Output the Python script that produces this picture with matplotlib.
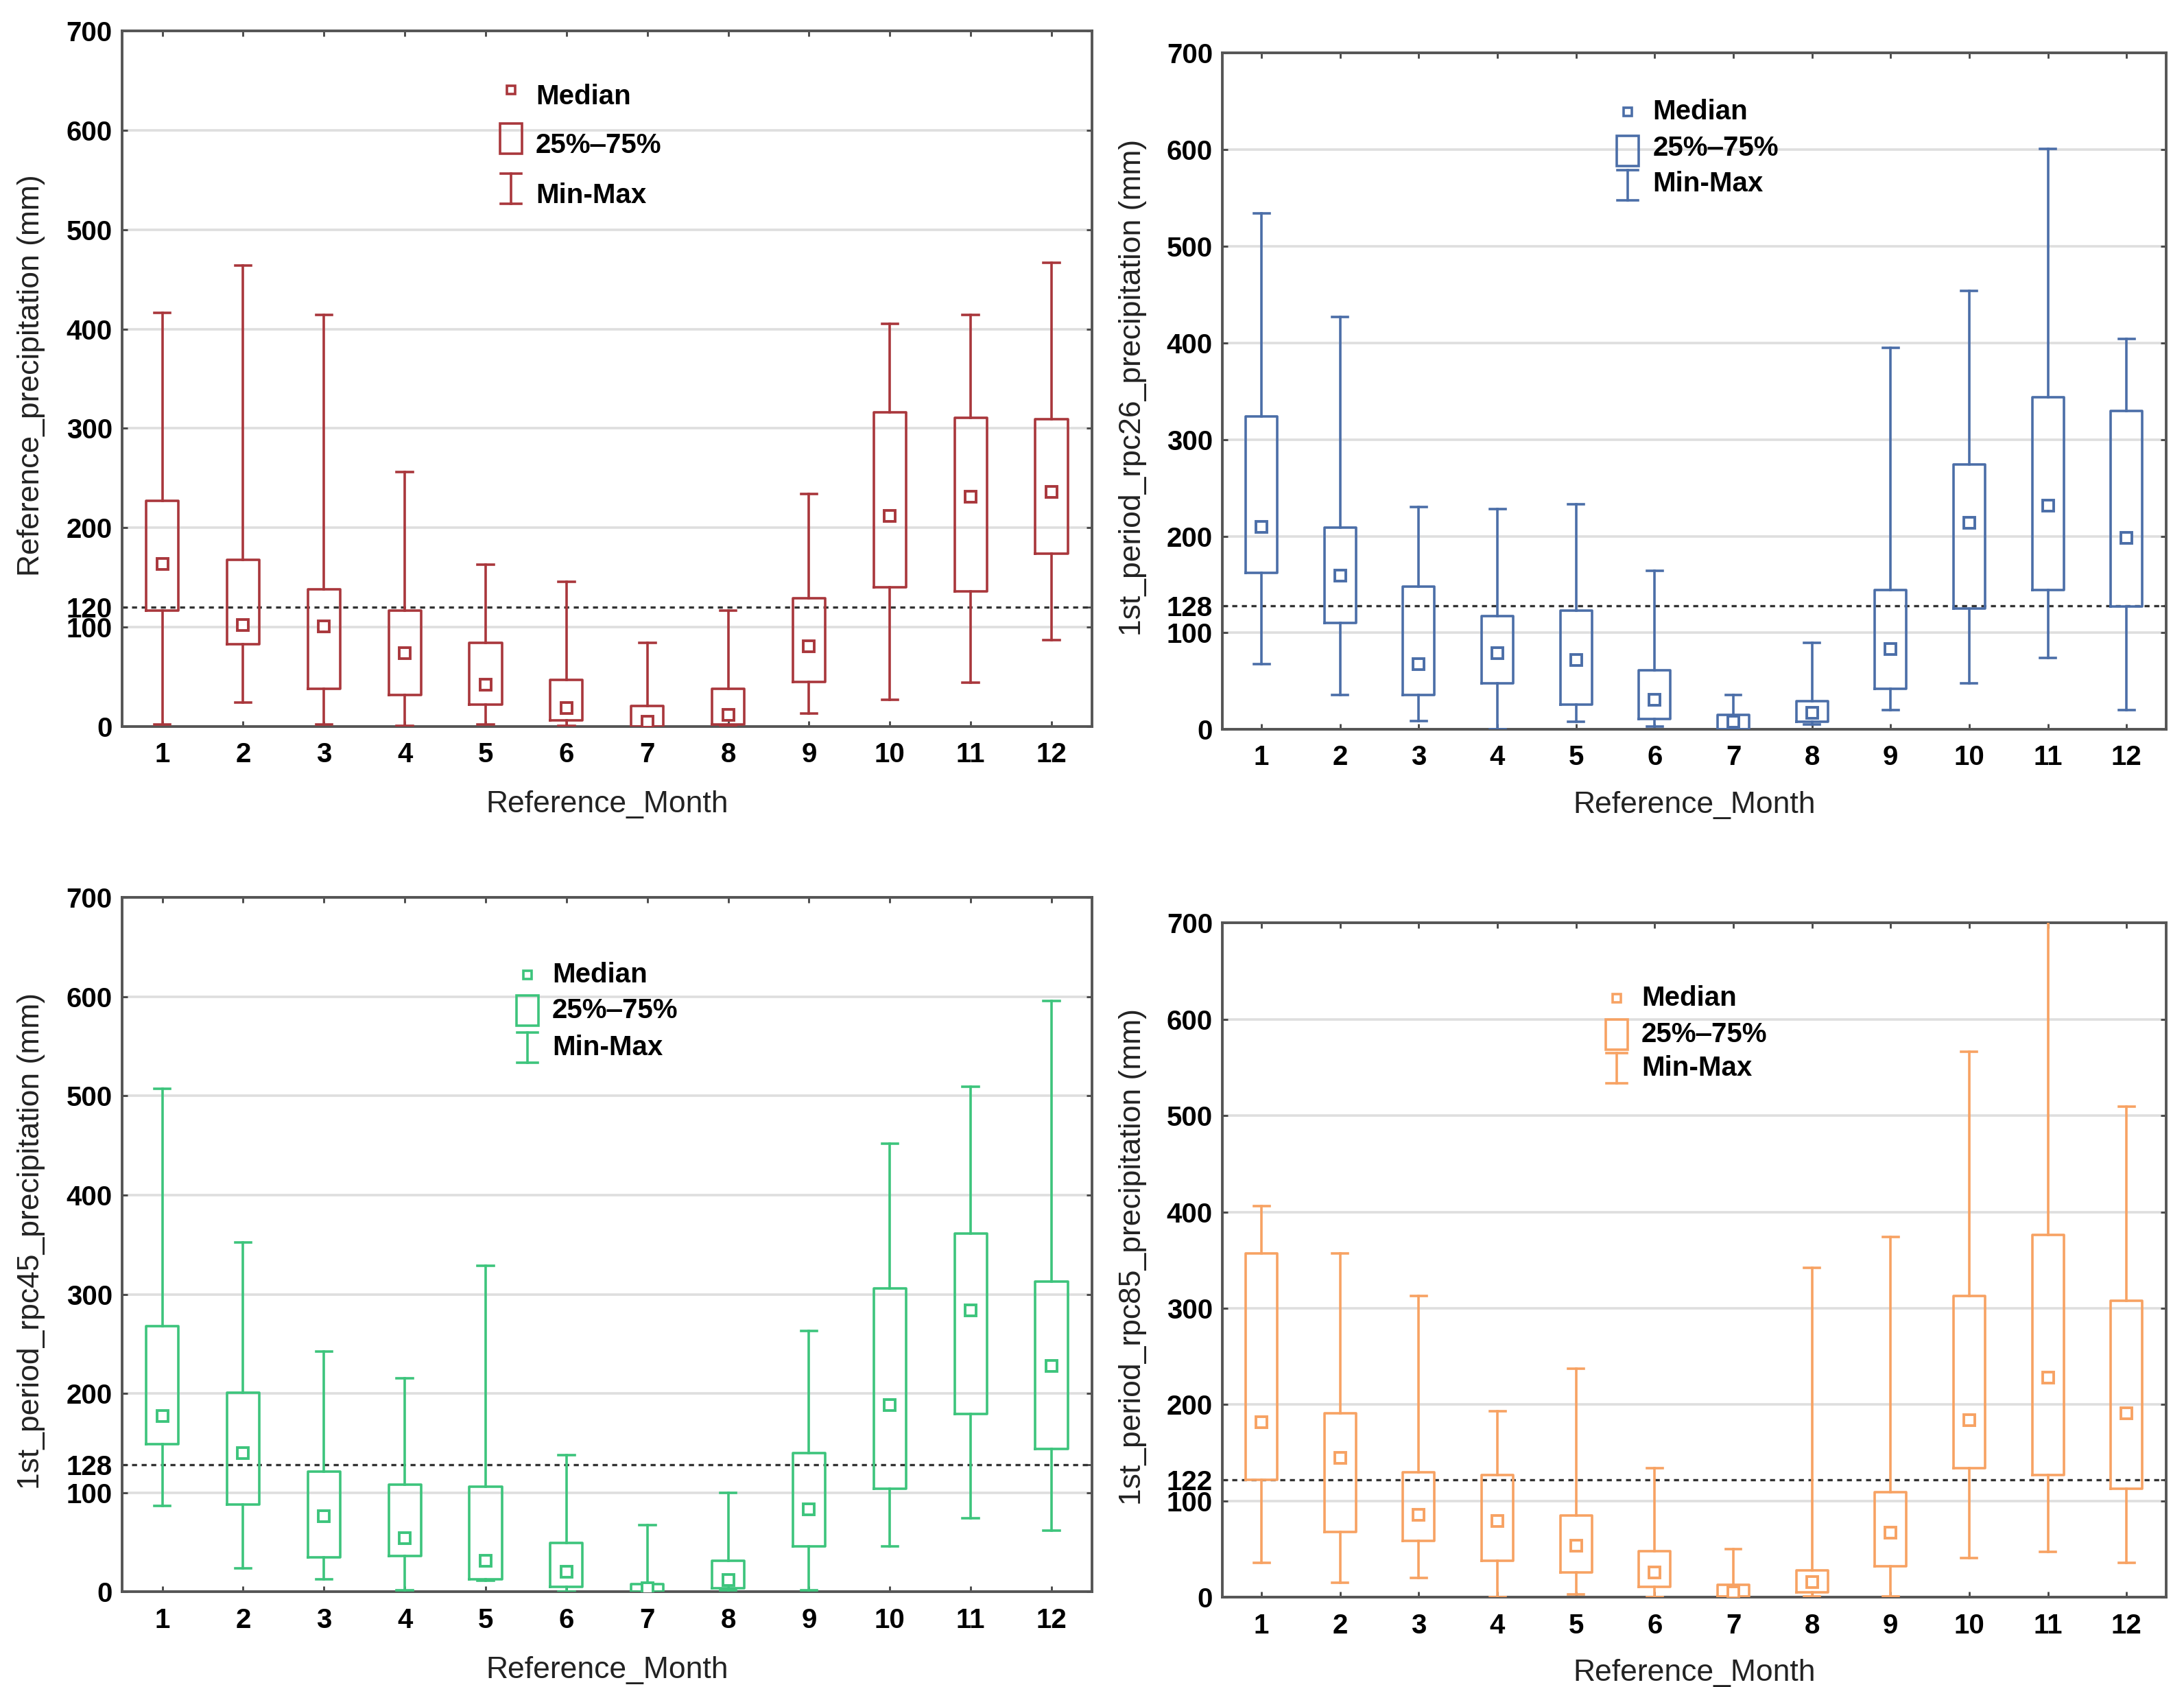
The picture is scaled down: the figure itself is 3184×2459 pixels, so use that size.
import matplotlib
matplotlib.use("Agg")
import matplotlib.pyplot as plt
from matplotlib.patches import Rectangle

plt.rcParams['font.family'] = ['Liberation Sans', 'DejaVu Sans']

months = list(range(1, 13))
month_labels = [str(m) for m in months]
y_ticks = [0, 100, 200, 300, 400, 500, 600, 700]

# Panel 1: Reference
ref_min = [2, 24, 2, 0.5, 2, 0.5, 0, 0.5, 13, 27, 44, 87]
ref_q1 = [117, 83, 38, 32, 22, 6, 0, 2, 45, 140, 136, 174]
ref_med = [164, 102, 101, 74, 42, 19, 5, 12, 81, 212, 231, 236]
ref_q3 = [227, 168, 138, 117, 84, 47, 21, 38, 129, 316, 311, 309]
ref_max = [416, 464, 414, 256, 163, 146, 84, 117, 234, 405, 414, 467]
ref_line = 120

# Panel 2: rpc26
r26_min = [68, 36, 9, 0, 8, 3, 0, 5, 20, 48, 74, 20]
r26_q1 = [162, 110, 36, 48, 26, 11, 0.5, 8, 42, 125, 144, 127]
r26_med = [210, 159, 68, 79, 72, 31, 8, 17, 83, 214, 232, 198]
r26_q3 = [324, 209, 148, 117, 123, 61, 15, 29, 144, 274, 344, 330]
r26_max = [534, 427, 230, 228, 233, 164, 36, 90, 395, 454, 601, 404]
r26_line = 128

# Panel 3: rpc45
r45_min = [87, 24, 13, 1.5, 11, 0.5, 0, 1.5, 1.5, 46, 74, 62]
r45_q1 = [149, 88, 35, 36, 13, 5, 0.5, 4, 46, 104, 179, 144]
r45_med = [177, 140, 76, 54, 31, 20, 4, 12, 83, 188, 284, 228]
r45_q3 = [268, 201, 121, 108, 106, 49, 8, 31, 140, 306, 361, 313]
r45_max = [507, 352, 242, 215, 329, 138, 67, 100, 263, 452, 509, 596]
r45_line = 128

# Panel 4: rpc85
r85_min = [36, 15, 20, 0, 3, 0, 0, 1, 1, 41, 47, 36]
r85_q1 = [122, 68, 59, 38, 26, 11, 1, 5, 32, 134, 127, 113]
r85_med = [182, 145, 86, 79, 54, 26, 5, 16, 67, 184, 228, 191]
r85_q3 = [357, 191, 130, 127, 85, 48, 13, 28, 109, 313, 376, 308]
r85_max = [406, 357, 313, 193, 237, 134, 50, 342, 374, 566, 710, 509]
r85_line = 122

W_IN, H_IN, DPI = 15.92, 12.295, 200
fig = plt.figure(figsize=(W_IN, H_IN), dpi=DPI)

panels = [
    dict(pos=[0.0558, 0.5693, 0.4442, 0.4124], color='#A9373C',
         data=(ref_min, ref_q1, ref_med, ref_q3, ref_max), line=ref_line,
         ylabel='Reference_precipitation (mm)', xlabel='Reference_Month',
         leg_x=0.401, leg_h=[0.915, 0.845, 0.773], leg_t=[0.905, 0.835, 0.763],
         ylab_x=-0.079, xlab_y=-0.092),
    dict(pos=[0.5596, 0.5676, 0.4321, 0.4009], color='#4B6EA8',
         data=(r26_min, r26_q1, r26_med, r26_q3, r26_max), line=r26_line,
         ylabel='1st_period_rpc26_precipitation (mm)', xlabel='Reference_Month',
         leg_x=0.430, leg_h=[0.913, 0.855, 0.805], leg_t=[0.913, 0.859, 0.807],
         ylab_x=-0.080, xlab_y=-0.091),
    dict(pos=[0.0558, 0.0564, 0.4442, 0.4116], color='#3DC47C',
         data=(r45_min, r45_q1, r45_med, r45_q3, r45_max), line=r45_line,
         ylabel='1st_period_rpc45_precipitation (mm)', xlabel='Reference_Month',
         leg_x=0.418, leg_h=[0.889, 0.837, 0.784], leg_t=[0.889, 0.837, 0.784],
         ylab_x=-0.079, xlab_y=-0.093),
    dict(pos=[0.5596, 0.0531, 0.4321, 0.3999], color='#F7A263',
         data=(r85_min, r85_q1, r85_med, r85_q3, r85_max), line=r85_line,
         ylabel='1st_period_rpc85_precipitation (mm)', xlabel='Reference_Month',
         leg_x=0.418, leg_h=[0.888, 0.834, 0.784], leg_t=[0.888, 0.834, 0.784],
         ylab_x=-0.080, xlab_y=-0.091),
]

LW = 1.3
TICK_FS = 14.5
LAB_FS = 16

for p in panels:
    ax = fig.add_axes(p['pos'])
    c = p['color']
    mn, q1, md, q3, mx = p['data']
    stats = []
    for i in range(len(months)):
        stats.append(dict(med=md[i], q1=q1[i], q3=q3[i], whislo=mn[i], whishi=mx[i], label=month_labels[i]))
    ax.bxp(stats, positions=months, widths=0.4, capwidths=0.2, showfliers=False,
           boxprops=dict(color=c, linewidth=LW),
           whiskerprops=dict(color=c, linewidth=LW),
           capprops=dict(color=c, linewidth=LW),
           medianprops=dict(linewidth=0, alpha=0), zorder=3)
    ax.plot(months, md, linestyle='none', marker='s', ms=6, mfc='white', mec=c, mew=1.4, zorder=4)
    ax.axhline(p['line'], color='#333333', linestyle=(0, (2.2, 2.0)), linewidth=1.2, zorder=2)

    ax.set_xlim(0.5, 12.5)
    ax.set_ylim(0, 700)
    ax.set_xticks(months)
    ax.set_xticklabels(month_labels)
    ax.set_yticks(y_ticks)
    ax.set_yticklabels([str(v) for v in y_ticks])
    ax.set_yticks([p['line']], minor=True)
    ax.set_yticklabels([str(p['line'])], minor=True)
    ax.grid(axis='y', which='major', color='#DEDEDE', linewidth=1.3, zorder=0)
    ax.set_axisbelow(True)
    ax.tick_params(which='both', direction='in', length=3, width=1, color='#444444',
                   top=True, right=True, labelsize=TICK_FS, labelcolor='black')
    ax.tick_params(axis='x', pad=8)
    ax.tick_params(axis='y', which='both', pad=5)
    for lab in ax.get_xticklabels() + ax.get_yticklabels() + ax.get_yticklabels(minor=True):
        lab.set_fontweight('bold')
    for s in ax.spines.values():
        s.set_color('#555555')
        s.set_linewidth(1.4)

    ax.set_ylabel(p['ylabel'], fontsize=LAB_FS, color='#222222')
    ax.set_xlabel(p['xlabel'], fontsize=LAB_FS, color='#222222')
    ax.yaxis.set_label_coords(p['ylab_x'], 0.505)
    ax.xaxis.set_label_coords(0.5, p['xlab_y'])

    # legend drawn in axes coordinates
    axw = p['pos'][2] * W_IN * DPI
    axh = p['pos'][3] * H_IN * DPI
    dx = lambda px: px / axw
    dy = lambda px: px / axh
    xh = p['leg_x']
    hy = p['leg_h']
    ty = p['leg_t']
    ax.plot([xh], [hy[0]], transform=ax.transAxes, marker='s', ms=4.5, mfc='white',
            mec=c, mew=1.3, linestyle='none', clip_on=False, zorder=5)
    ax.add_patch(Rectangle((xh - dx(16), hy[1] - dy(22)), dx(32), dy(44), transform=ax.transAxes,
                           fill=False, ec=c, lw=LW, zorder=5))
    ax.plot([xh, xh], [hy[2] - dy(22), hy[2] + dy(22)], transform=ax.transAxes, color=c, lw=LW, zorder=5)
    ax.plot([xh - dx(15), xh + dx(15)], [hy[2] + dy(22)] * 2, transform=ax.transAxes, color=c, lw=LW, zorder=5)
    ax.plot([xh - dx(15), xh + dx(15)], [hy[2] - dy(22)] * 2, transform=ax.transAxes, color=c, lw=LW, zorder=5)
    for t, yy in zip(['Median', '25%\u201275%', 'Min-Max'], ty):
        ax.text(xh + dx(36), yy, t, transform=ax.transAxes, va='center', ha='left',
                fontsize=TICK_FS, fontweight='bold', color='black')

fig.savefig('out.png', dpi=DPI, facecolor='white')
